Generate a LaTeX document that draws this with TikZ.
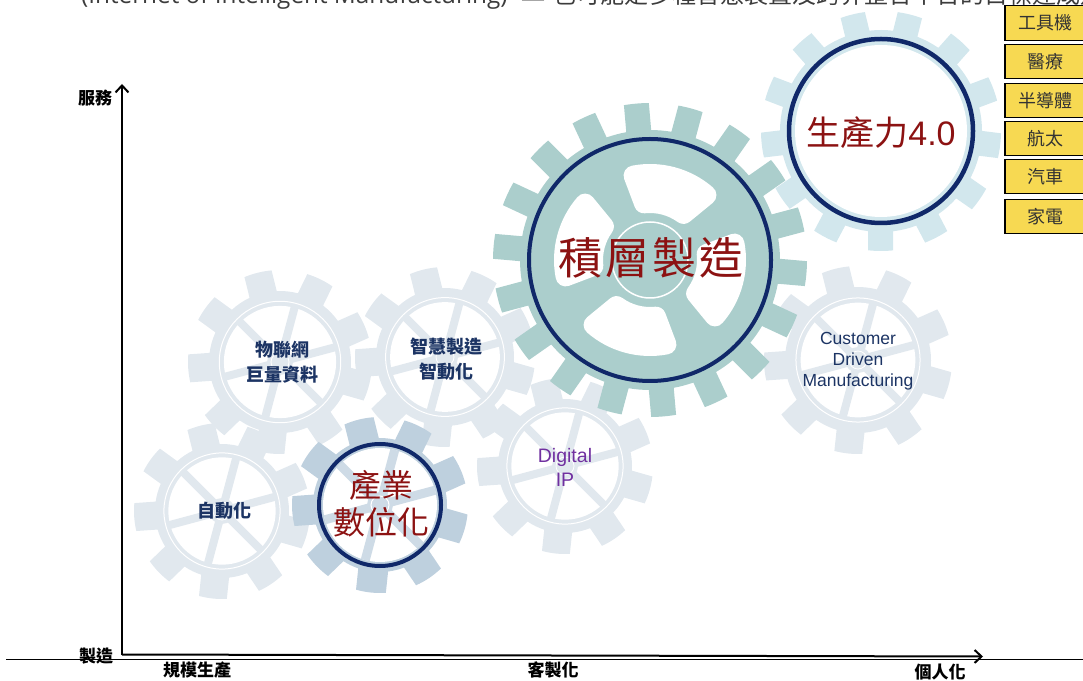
\documentclass[tikz,border=0pt]{standalone}
\usepackage{fontspec}
\usepackage{tikz}
\usetikzlibrary{arrows.meta}
\newfontfamily\cjk{Noto Sans CJK TC}
\newfontfamily\arial{Liberation Sans}
\newfontfamily\opensans{Open Sans}

\definecolor{gearnavy}{RGB}{16,40,105}
\definecolor{gearred}{RGB}{140,18,18}
\definecolor{labelnavy}{RGB}{28,52,100}
\definecolor{litegray}{RGB}{225,232,238}
\definecolor{bluegray}{RGB}{190,208,222}
\definecolor{spokegray}{RGB}{206,219,230}
\definecolor{amteal}{RGB}{171,206,204}
\definecolor{skyblue}{RGB}{210,231,237}
\definecolor{ipurple}{RGB}{112,48,160}
\definecolor{boxyellow}{RGB}{247,217,82}
\definecolor{toptext}{RGB}{60,60,60}

% gear outline: teeth, root radius, tip radius, half tooth width, rotation
\newcommand\gearpath[5]{%
  ({#5-asin(#4/(#2))}:#2)
  \foreach \k in {1,...,#1}{
    -- ({#5+(\k-1)*360/#1-asin(#4/(#3))}:#3)
    arc[start angle={#5+(\k-1)*360/#1-asin(#4/(#3))}, end angle={#5+(\k-1)*360/#1+asin(#4/(#3))}, radius=#3]
    -- ({#5+(\k-1)*360/#1+asin(#4/(#2))}:#2)
    arc[start angle={#5+(\k-1)*360/#1+asin(#4/(#2))}, end angle={#5+\k*360/#1-asin(#4/(#2))}, radius=#2]
  } -- cycle}

% pale wheel with spokes: x, y, tip radius
\newcommand\litegear[3]{%
  \pgfmathsetmacro\rroot{#3-21}
  \begin{scope}[shift={(#1,#2)}]
    \fill[litegray] \gearpath{9}{\rroot}{#3}{14}{104};
    \fill[white] (0,0) circle ({0.61*#3});
    \draw[white, line width=1pt] (0,0) circle ({0.66*#3});
    \foreach \a in {15,75,135}
      \draw[litegray, line width=8pt] (\a:{0.62*#3}) -- (\a+180:{0.62*#3});
    \fill[litegray] (0,0) circle (13);
    \draw[white, line width=0.8pt] (0,0) circle (9);
  \end{scope}}

\tikzset{
  smalllabel/.style={font=\cjk\bfseries\fontsize{18}{25}\selectfont, text=labelnavy, align=center, inner sep=0pt},
  redlabel/.style={text=gearred, align=center, inner sep=0pt},
  enlabel/.style={font=\arial\fontsize{17.5}{21}\selectfont, text=labelnavy, align=center, inner sep=0pt},
  axisline/.style={line width=2pt, -{Straight Barb[length=7pt,width=13pt]}},
  axislabel/.style={font=\cjk\bfseries\fontsize{17}{19}\selectfont, inner sep=0pt},
  sectorbox/.style={draw=black, line width=1.2pt, fill=boxyellow, minimum width=80pt,
    minimum height=34.5pt, inner sep=0pt, font=\cjk\fontsize{18}{20}\selectfont, text=black!80}
}

\begin{document}
\begin{tikzpicture}[x=1pt,y=1pt]
\useasboundingbox (0,0) rectangle (1083,680);
\clip (0,0) rectangle (1083,680);

% pale wheels in the back
\litegear{280}{318}{92}
\litegear{445}{323}{90}
\litegear{222}{169}{88}
\litegear{565}{214}{88}
\litegear{858}{320}{94}

% digital transformation wheel
\begin{scope}[shift={(380,175)}]
  \fill[bluegray] \gearpath{9}{67}{88}{15}{104};
  \fill[white] (0,0) circle (57);
  \foreach \a in {15,75,135}
    \draw[spokegray, line width=9pt] (\a:57) -- (\a+180:57);
  \fill[spokegray] (0,0) circle (13);
  \draw[white, line width=1pt] (0,0) circle (9);
  \draw[gearnavy, line width=4pt] (0,0) circle (61);
\end{scope}

% productivity 4.0 wheel
\begin{scope}[shift={(881,549)}]
  \fill[skyblue] \gearpath{13}{101}{120}{12.5}{76};
  \fill[white] (0,0) circle (86);
  \draw[gearnavy, line width=4.5pt] (0,0) circle (92);
\end{scope}

% additive manufacturing wheel
\begin{scope}[shift={(650,420)}]
  \fill[amteal] \gearpath{18}{130}{157}{12.5}{95};
  \foreach \a in {75,165,255,345}
    \filldraw[white, line width=20pt, line join=round]
      (\a-21:57) arc[start angle=\a-21, end angle=\a+21, radius=57]
      -- (\a+26:86) arc[start angle=\a+26, end angle=\a-26, radius=86] -- cycle;
  \draw[white, line width=1.5pt] (0,0) circle (38);
  \draw[gearnavy, line width=4pt] (0,0) circle (121);
\end{scope}

% wheel labels
\node[smalllabel] (iot) at (282,317.5) {物聯網\\巨量資料};
\node[smalllabel] (smart) at (446,321) {智慧製造\\智動化};
\node[smalllabel] (auto) at (224,169) {自動化};
\node[redlabel, font=\cjk\fontsize{32}{37}\selectfont] (digit) at (381,176.5) {產業\\數位化};
\node[redlabel, font=\cjk\fontsize{44}{48}\selectfont] (am) at (651,422) {積\kern3pt 層\kern3pt 製\kern3pt 造};
\node[redlabel, font=\cjk\fontsize{34}{40}\selectfont] (p40) at (881,547) {生產力{\arial 4.0}};
\node[enlabel, text=ipurple, font=\arial\fontsize{19.5}{24}\selectfont] (dip) at (565,213) {Digital\\IP};
\node[enlabel] (cdm) at (858,319) {Customer\\Driven\\Manufacturing};

% axes
\coordinate (o) at (122,25.5);
\coordinate (ytop) at (122,596);
\coordinate (xend) at (983,23.5);
\coordinate (basel) at (6,21);
\coordinate (baser) at (1083,21);
\draw[line width=0.9pt] (basel) -- (baser);
\draw[axisline] (o) -- (ytop);
\draw[axisline] (o) -- (xend);
\node[axislabel] (serv) at (95,582) {服務};
\node[axislabel] (make) at (96,24) {製造};
\node[axislabel] (mass) at (197,10) {規模生產};
\node[axislabel] (cust) at (553,10) {客製化};
\node[axislabel] (pers) at (940,8) {個人化};

% sectors
\node[sectorbox] (tool) at (1045,657) {工具機};
\node[sectorbox] (med) at (1045,618.5) {醫療};
\node[sectorbox] (semi) at (1045,579.5) {半導體};
\node[sectorbox] (aero) at (1045,541.5) {航太};
\node[sectorbox] (car) at (1045,503.5) {汽車};
\node[sectorbox] (home) at (1045,463.5) {家電};

% heading line running off the top
\node[anchor=base west, font=\opensans\fontsize{24.3}{30}\selectfont, text=toptext, inner sep=0pt] (iimen) at (81,676.5) {(Internet of Intelligent Manufacturing)};
\node[font=\opensans\fontsize{24}{30}\selectfont, text=toptext, inner sep=0pt] (dash) at (533,677) {—};
\node[anchor=base west, font=\cjk\fontsize{24}{30}\selectfont, text=toptext, inner sep=0pt] (iimzh) at (552,676) {也可能是多種智慧裝置及跨界整合平台的目標達成途徑};
\end{tikzpicture}
\end{document}
